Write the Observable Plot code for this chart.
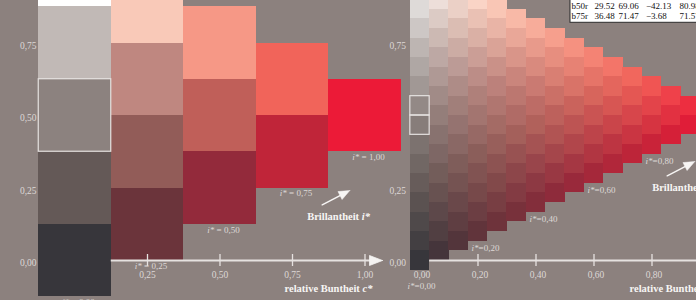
<!DOCTYPE html>
<html>
<head>
<meta charset="utf-8">
<script src="https://cdn.jsdelivr.net/npm/d3@7"></script>
<script src="https://cdn.jsdelivr.net/npm/@observablehq/plot@0.6"></script>
<style>
  html, body { margin: 0; padding: 0; background: #8c817e; }
  #chart { width: 696px; height: 300px; overflow: hidden; position: relative; }
  #chart svg { display: block; }
</style>
</head>
<body>
<div id="chart"></div>
<script>
// ---------------- data ----------------
// Left panel: relative chroma c*, lightness of the cell centre, colour
const leftChroma    = [0, 0, 0, 0, 0, 0.25, 0.25, 0.25, 0.25, 0.5, 0.5, 0.5, 0.75, 0.75, 1];
const leftLightness = [0, 0.25, 0.5, 0.75, 1, 0.125, 0.375, 0.625, 0.875, 0.25, 0.5, 0.75, 0.375, 0.625, 0.5];
const leftColors    = ["#37363b", "#645957", "#8c827f", "#c1b9b6", "#ffffff",
                       "#6b343b", "#925c58", "#bf8780", "#f9c9b8",
                       "#932a3b", "#c05f59", "#f69886",
                       "#c02539", "#f1645a",
                       "#ec1a37"];
const leftIStar     = [0, 0.25, 0.5, 0.75, 1];
const leftIStarText = ["i* = 0,00", "i* = 0,25", "i* = 0,50", "i* = 0,75", "i* = 1,00"];
const leftXTicks    = [0.25, 0.5, 0.75, 1];
const leftXLabels   = ["0,25", "0,50", "0,75", "1,00"];
const leftYTicks    = [0, 0.25, 0.5, 0.75];
const leftYLabels   = ["0,00", "0,25", "0,50", "0,75"];

// Right panel: 15 steps of relative chroma c* and of whiteness
const rightChroma    = [0, 0.0667, 0.1333, 0.2, 0.2667, 0.3333, 0.4, 0.4667, 0.5333, 0.6, 0.6667, 0.7333, 0.8, 0.8667, 0.9333, 1];
const rightWhiteness = [0, 0.0667, 0.1333, 0.2, 0.2667, 0.3333, 0.4, 0.4667, 0.5333, 0.6, 0.6667, 0.7333, 0.8, 0.8667, 0.9333, 1];
const rightIStar     = [0, 0.2, 0.4, 0.6, 0.8, 1];
const rightIStarText = ["i*=0,00", "i*=0,20", "i*=0,40", "i*=0,60", "i*=0,80", "i*=1,00"];
const rightXTicks    = [0.2, 0.4, 0.6, 0.8, 1];
const rightXLabelPos = [0, 0.2, 0.4, 0.6, 0.8, 1];
const rightXLabels   = ["0,00", "0,20", "0,40", "0,60", "0,80", "1,00"];
const rightYTicks    = [0, 0.25, 0.75];
const rightYLabels   = ["0,00", "0,25", "0,75"];

// Table (top right)
const tableName = ["b50r", "b75r"];
const tableL    = ["29.52", "36.48"];
const tableA    = ["69.06", "71.47"];
const tableB    = ["\u221242.13", "\u22123.68"];
const tableC    = ["80.98", "71.57"];

// ---------------- build ----------------
const shift = 345 / 290;     // horizontal offset of the right panel (in c* units)
const half4 = 0.125, half15 = 1 / 30;

const pal = new Map();
leftChroma.forEach((c, i) => pal.set(Math.round(c * 4) + "," + Math.round((leftLightness[i] - c / 2) * 4), d3.rgb(leftColors[i])));
const P = (a, b) => pal.get(a + "," + b);
function mixColor(c, w) {
  const A = c * 4, B = w * 4;
  const i = Math.floor(A + 1e-6), j = Math.floor(B + 1e-6);
  const fa = Math.max(0, A - i), fb = Math.max(0, B - j);
  let parts;
  if (i + j >= 4) parts = [[P(i, j), 1]];
  else if (fa + fb <= 1 + 1e-6) parts = [[P(i, j), 1 - fa - fb], [P(i + 1, j), fa], [P(i, j + 1), fb]];
  else parts = [[P(i + 1, j + 1), fa + fb - 1], [P(i + 1, j), 1 - fb], [P(i, j + 1), 1 - fa]];
  let r = 0, g = 0, b = 0;
  for (const [col, t] of parts) { if (Math.abs(t) < 1e-6) continue; r += col.r * t; g += col.g * t; b += col.b * t; }
  return d3.rgb(r, g, b).formatHex();
}

const left = leftChroma.map((c, i) => ({c, L: leftLightness[i], fill: leftColors[i]}));
const right = [];
rightChroma.forEach(c => rightWhiteness.forEach(w => {
  if (c + w <= 1.0001) right.push({c, w, L: c / 2 + w, fill: mixColor(c, w)});
}));
const leftOutline = left.filter(d => d.c === 0 && d.L === 0.5);
const rightOutline = right.filter(d => d.c === 0 && (d.w === 0.4667 || d.w === 0.5333));

const tickCol = "#ddd8d6", boldCol = "#f7f5f4", axisCol = "#e6e2e0";
const serif = "'Liberation Serif', 'Times New Roman', serif";

// annotation geometry (c*, lightness units), right panel is the same shifted
const annot = [{dx: 0, dy: 0}, {dx: shift, dy: 0.1}];
const shaft = annot.map(o => [[0.8524 + o.dx, 0.1921 + o.dy], [0.9138 + o.dx, 0.2239 + o.dy]]);
const head = annot.map(o => [[0.9476 + o.dx, 0.2414 + o.dy], [0.9210 + o.dx, 0.2102 + o.dy], [0.9067 + o.dx, 0.2377 + o.dy], [0.9476 + o.dx, 0.2414 + o.dy]]);
const axisHead = [[1.0603, 0], [1.0155, -0.0172], [1.0155, 0.0172], [1.0603, 0]];
const tableRowY = [0.8759, 0.8431];

const marks = [
  // right panel y labels
  Plot.text(rightYTicks, {x: shift, y: d => d, dx: -14, dy: 2.5, text: (d, i) => rightYLabels[i], textAnchor: "end", fill: tickCol, fontSize: 9.5}),
  // right panel cells
  Plot.rect(right, {x1: d => d.c - half15 + shift, x2: d => d.c + half15 + shift, y1: d => d.L - half15, y2: d => d.L + half15, fill: "fill", shapeRendering: "crispEdges"}),
  Plot.rect(rightOutline, {x1: d => d.c - half15 + shift, x2: d => d.c + half15 + shift, y1: d => d.L - half15, y2: d => d.L + half15, fill: "none", stroke: axisCol, strokeWidth: 1.2}),
  // left panel y labels
  Plot.text(leftYTicks, {x: 0, y: d => d, dx: -38.5, dy: 2.5, text: (d, i) => leftYLabels[i], textAnchor: "end", fill: tickCol, fontSize: 9.5}),
  // left panel cells
  Plot.rect(left, {x1: d => d.c - half4, x2: d => d.c + half4, y1: d => d.L - half4, y2: d => d.L + half4, fill: "fill", shapeRendering: "crispEdges"}),
  Plot.rect(leftOutline, {x1: d => d.c - half4, x2: d => d.c + half4, y1: d => d.L - half4, y2: d => d.L + half4, fill: "none", stroke: axisCol, strokeWidth: 1.2}),

  // left x axis
  Plot.ruleY([0], {x1: 0.125, x2: 1.02, stroke: axisCol, strokeWidth: 2}),
  Plot.line(axisHead, {x: d => d[0], y: d => d[1], fill: "#f4f2f1", stroke: "#f4f2f1", strokeWidth: 0.8}),
  Plot.ruleX(leftXTicks, {x: d => d, y1: -0.0207, y2: 0.0207, stroke: axisCol, strokeWidth: 1.3}),
  Plot.text(leftXTicks, {x: d => d, y: 0, dy: 14, text: (d, i) => leftXLabels[i], fill: tickCol, fontSize: 9.5}),

  // right x axis
  Plot.ruleY([0], {x1: half15 + shift, x2: 1.1 + shift, stroke: axisCol, strokeWidth: 2}),
  Plot.ruleX(rightXTicks, {x: d => d + shift, y1: -0.0207, y2: 0.0207, stroke: axisCol, strokeWidth: 1.3}),
  Plot.text(rightXLabelPos, {x: d => d + shift, y: 0, dx: 2, dy: 14, text: (d, i) => rightXLabels[i], fill: tickCol, fontSize: 9.5}),

  // i* labels
  Plot.text(leftIStar, {x: d => d, y: d => d / 2 - half4, dx: 3.5, dy: 5.5, text: (d, i) => leftIStarText[i], fill: tickCol, fontSize: 9}),
  Plot.text(rightIStar.slice(1), {x: d => d + shift, y: d => d / 2 - half15, dx: 7.5, dy: 7.3, text: (d, i) => rightIStarText[i + 1], fill: tickCol, fontSize: 9}),
  Plot.text(rightIStar.slice(0, 1), {x: d => d + shift, y: d => d / 2 - half15, dx: 1.5, dy: 16.3, text: (d, i) => rightIStarText[i], fill: tickCol, fontSize: 9}),

  // annotations
  ...shaft.map(s => Plot.line(s, {x: d => d[0], y: d => d[1], stroke: "#f7f5f4", strokeWidth: 1.5})),
  ...head.map(s => Plot.line(s, {x: d => d[0], y: d => d[1], fill: "#f7f5f4", stroke: "#f7f5f4", strokeWidth: 0.5})),
  Plot.text(annot, {x: d => 0.8007 + d.dx, y: d => 0.1528 + d.dy, text: () => "Brillantheit i*", textAnchor: "start", fill: boldCol, fontWeight: "bold", fontSize: 10.5}),
  Plot.text(annot, {x: d => 0.7224 + d.dx, y: -0.0966, text: () => "relative Buntheit c*", textAnchor: "start", fill: boldCol, fontWeight: "bold", fontSize: 10.5}),

  // table box
  Plot.rect([0], {x1: 1.7086, x2: 2.3, y1: 0.8197, y2: 1.0, fill: "white", stroke: "#2a2a2a", strokeWidth: 1}),
  Plot.text(tableName, {x: 1.712, y: (d, i) => tableRowY[i], text: d => d, textAnchor: "start", fill: "#111", fontSize: 9}),
  Plot.text(tableL, {x: 1.7914, y: (d, i) => tableRowY[i], text: d => d, textAnchor: "start", fill: "#111", fontSize: 9}),
  Plot.text(tableA, {x: 1.8741, y: (d, i) => tableRowY[i], text: d => d, textAnchor: "start", fill: "#111", fontSize: 9}),
  Plot.text(tableB, {x: 1.9690, y: (d, i) => tableRowY[i], text: d => d, textAnchor: "start", fill: "#111", fontSize: 9}),
  Plot.text(tableC, {x: 2.0845, y: (d, i) => tableRowY[i], text: d => d, textAnchor: "start", fill: "#111", fontSize: 9})
];

const svg = Plot.plot({
  width: 696,
  height: 300,
  margin: 0,
  x: {domain: [-74.5 / 290, 621.5 / 290], axis: null},
  y: {domain: [-40 / 290, 260 / 290], axis: null},
  color: {type: "identity"},
  style: {background: "#8c817e", fontFamily: serif, overflow: "hidden"},
  marks
});

// italicise the variable symbols i* and c*
svg.querySelectorAll("text").forEach(t => {
  const s = t.textContent;
  if (!/[ic]\*/.test(s)) return;
  const parts = s.split(/([ic]\*)/).filter(p => p !== "");
  while (t.firstChild) t.removeChild(t.firstChild);
  for (const p of parts) {
    const ts = document.createElementNS("http://www.w3.org/2000/svg", "tspan");
    if (/^[ic]\*$/.test(p)) ts.setAttribute("font-style", "italic");
    ts.textContent = p;
    t.appendChild(ts);
  }
});

document.getElementById("chart").appendChild(svg);
</script>
</body>
</html>
